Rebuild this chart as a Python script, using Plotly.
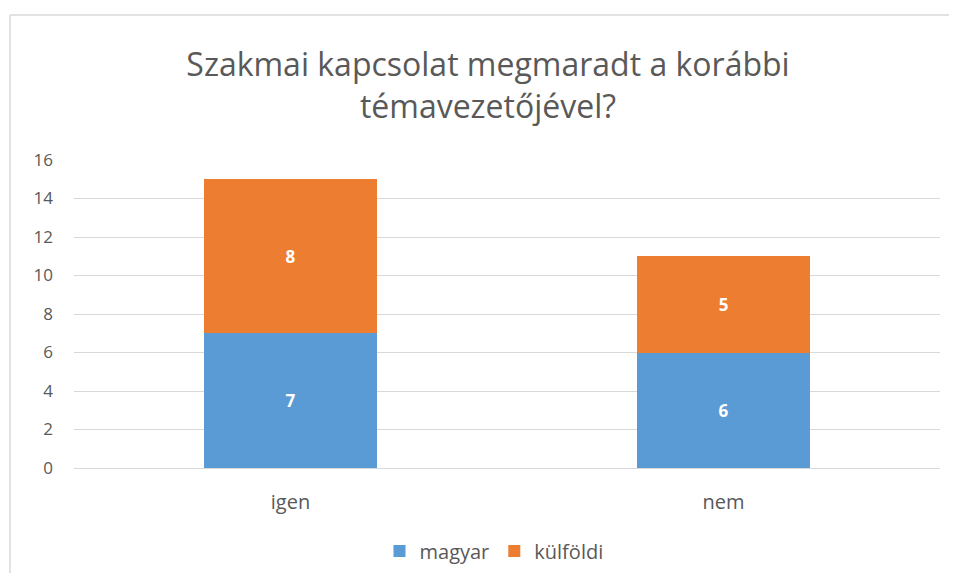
import plotly.graph_objects as go

categories = ["igen", "nem"]
magyar = [7, 6]
kulfoldi = [8, 5]
series_names = ["magyar", "külföldi"]
title_text = "Szakmai kapcsolat megmaradt a korábbi<br>témavezetőjével?"
y_ticks = [0, 2, 4, 6, 8, 10, 12, 14, 16]

FONT = "Open Sans"
GREY = "#595959"

# page is offset by the 8px default body margin; keep the figure inside the
# window so that no scrollbar appears
OFF = 8
W, H = 957 - 2 * OFF, 581 - 2 * OFF
L, T = 74 - OFF, 160 - OFF
R = W - (940 - OFF)
B = H - (468 - OFF)
pw, ph = W - L - R, H - T - B


def px_x(p):
    return (p - OFF - L) / pw


def px_y(p):
    return (H - B - (p - OFF)) / ph


fig = go.Figure()
fig.add_trace(go.Bar(
    x=categories, y=magyar, name=series_names[0],
    marker=dict(color="#5B9BD5", line=dict(width=0)),
    text=magyar, textposition="inside", insidetextanchor="middle",
    textfont=dict(family=FONT, size=17, color="white", weight="bold"),
))
fig.add_trace(go.Bar(
    x=categories, y=kulfoldi, name=series_names[1],
    marker=dict(color="#ED7D31", line=dict(width=0)),
    text=kulfoldi, textposition="inside", insidetextanchor="middle",
    textfont=dict(family=FONT, size=17, color="white", weight="bold"),
))

frame = dict(color="#D9D9D9", width=1.5)

fig.update_layout(
    width=W, height=H,
    barmode="stack", bargap=0.6,
    margin=dict(l=L, r=R, t=T, b=B, autoexpand=False),
    paper_bgcolor="white", plot_bgcolor="white",
    font=dict(family=FONT, color=GREY, size=16),
    title=dict(text=title_text, x=px_x(488), xref="paper", xanchor="center",
               y=1 - (76 - OFF) / H, yanchor="middle",
               font=dict(family=FONT, size=32, color=GREY)),
    xaxis=dict(showgrid=False, showline=False, ticks="", ticklabelstandoff=20,
               tickfont=dict(size=20, color=GREY), automargin=False),
    yaxis=dict(range=[0, 16], tickvals=y_ticks, showgrid=True, gridcolor="#D9D9D9",
               gridwidth=1, zeroline=True, zerolinecolor="#D9D9D9", zerolinewidth=1,
               ticks="", ticklabelstandoff=20, tickfont=dict(size=17, color=GREY),
               automargin=False),
    legend=dict(orientation="h", x=px_x(494), xanchor="center", y=px_y(551),
                yanchor="middle", font=dict(size=20, color=GREY),
                itemwidth=30, traceorder="normal"),
    shapes=[
        dict(type="line", xref="paper", yref="paper",
             x0=px_x(10), x1=px_x(10), y0=px_y(600), y1=px_y(15), line=frame,
             layer="below"),
        dict(type="line", xref="paper", yref="paper",
             x0=px_x(10), x1=px_x(990), y0=px_y(15), y1=px_y(15), line=frame,
             layer="below"),
    ],
)

fig.write_html("out.html")
